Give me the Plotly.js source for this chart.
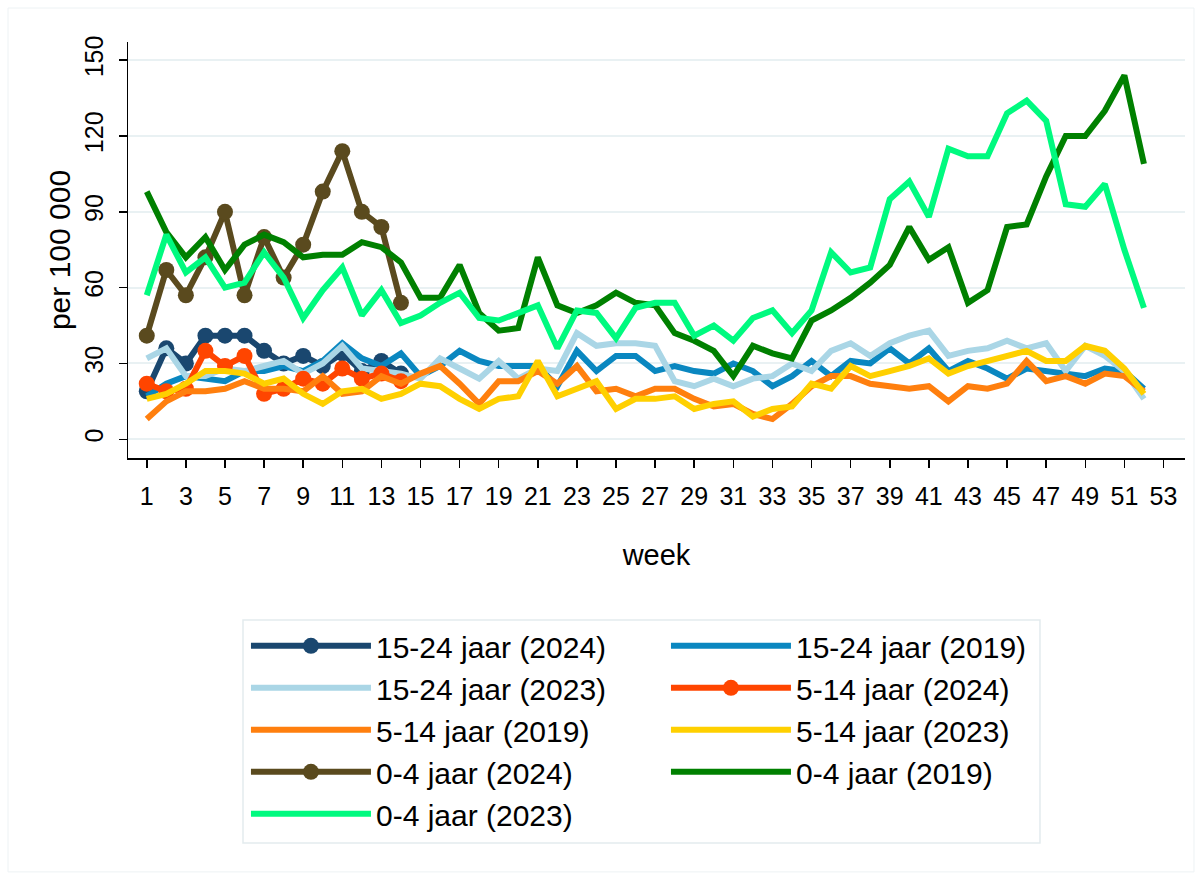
<!DOCTYPE html>
<html>
<head>
<meta charset="utf-8">
<script src="https://cdn.plot.ly/plotly-3.0.1.min.js"></script>
<style>
html,body{margin:0;padding:0;background:#fff;}
#chart{width:1202px;height:880px;}
</style>
</head>
<body>
<div id="chart"></div>
<script>
// ---- data ----
const weeks = Array.from({length: 52}, (_, i) => i + 1);
const weeks2024 = weeks.slice(0, 14);
const xTickVals = [1,3,5,7,9,11,13,15,17,19,21,23,25,27,29,31,33,35,37,39,41,43,45,47,49,51,53];
const yTickVals = [0,30,60,90,120,150];

const y15_24_2024 = [19,36,30,41,41,41,35,30,33,29,34,27,31,26];
const y15_24_2019 = [17,22,25,24,23,27,27,29,27,31,38,32,29,34,25,29,35,31,29,29,29,21,35,27,33,33,27,29,27,26,30,27,21,25,31,25,31,30,36,30,36,27,31,28,24,28,27,26,25,28,27,20];
const y15_24_2023 = [32,36,25,25,28,27,29,31,26,30,37,28,27,26,24,32,28,24,31,24,28,27,42,37,38,38,37,23,21,24,21,24,25,30,27,35,38,33,38,41,43,33,35,36,39,36,38,27,37,33,27,16];
const y5_14_2024 = [22,19,20,35,29,33,18,20,24,22,28,24,26,23];
const y5_14_2019 = [8,15,19,19,20,23,20,20,19,25,18,19,25,22,26,29,22,14,23,23,27,22,29,19,20,17,20,20,16,13,14,10,8,14,21,25,25,22,21,20,21,15,21,20,22,31,23,25,22,26,25,19];
const y5_14_2023 = [16,18,22,27,27,26,22,24,18,14,19,20,16,18,22,21,16,12,16,17,31,17,20,23,12,16,16,17,12,14,15,9,12,13,22,20,29,25,27,29,32,26,29,31,33,35,31,31,37,35,28,18];
const y0_4_2024 = [41,67,57,72,90,57,80,64,77,98,114,90,84,54];
const y0_4_2019 = [98,82,72,80,67,77,81,78,72,73,73,78,76,70,56,56,69,50,43,44,72,53,50,53,58,54,53,42,39,35,25,37,34,32,47,51,56,62,69,84,71,76,54,59,84,85,104,120,120,130,144,109];
const y0_4_2023 = [57,81,66,72,60,62,74,64,48,59,68,49,59,46,49,54,58,48,47,50,53,36,51,50,40,52,54,54,41,45,39,48,51,42,51,74,66,68,95,102,88,115,112,112,129,134,126,93,92,101,75,52];

const seriesNames = ['15-24 jaar (2024)','15-24 jaar (2019)','15-24 jaar (2023)','5-14 jaar (2024)','5-14 jaar (2019)','5-14 jaar (2023)','0-4 jaar (2024)','0-4 jaar (2019)','0-4 jaar (2023)'];
const seriesColors = ['#1a476f','#0a87c0','#aad6e6','#ff4500','#ff7f0e','#ffd000','#5a4a1e','#008000','#00fa7f'];
const seriesX = [weeks2024, weeks, weeks, weeks2024, weeks, weeks, weeks2024, weeks, weeks];
const seriesY = [y15_24_2024, y15_24_2019, y15_24_2023, y5_14_2024, y5_14_2019, y5_14_2023, y0_4_2024, y0_4_2019, y0_4_2023];
const withMarkers = [true,false,false,true,false,false,true,false,false];

const FONT = 'Arial, "Liberation Sans", Helvetica, sans-serif';

const traces = seriesNames.map((name, i) => ({
  type: 'scatter',
  mode: withMarkers[i] ? 'lines+markers' : 'lines',
  name: name,
  x: seriesX[i],
  y: seriesY[i],
  line: {color: seriesColors[i], width: 6},
  marker: {color: seriesColors[i], size: 16},
  hoverinfo: 'x+y+name'
}));

const layout = {
  width: 1202,
  height: 880,
  paper_bgcolor: '#ffffff',
  plot_bgcolor: '#ffffff',
  font: {family: FONT, color: '#000000', size: 25},
  margin: {l: 128, r: 17, t: 42, b: 422, pad: 0},
  showlegend: true,
  xaxis: {
    range: [0.04, 54.1],
    tickmode: 'array',
    tickvals: xTickVals,
    ticks: 'outside',
    ticklen: 8,
    tickwidth: 1.5,
    tickcolor: '#000',
    ticklabelstandoff: 7,
    showline: true,
    linecolor: '#000',
    linewidth: 1.5,
    showgrid: false,
    zeroline: false,
    tickfont: {size: 25, family: FONT},
    title: {text: 'week', font: {size: 29, family: FONT}, standoff: 36},
    automargin: false
  },
  yaxis: {
    range: [-7.4, 157.2],
    tickmode: 'array',
    tickvals: yTickVals,
    ticks: 'outside',
    ticklen: 8,
    tickwidth: 1.5,
    tickcolor: '#000',
    tickangle: -90,
    ticklabelstandoff: 6,
    showline: true,
    linecolor: '#000',
    linewidth: 1.5,
    showgrid: true,
    gridcolor: '#e9f1f3',
    gridwidth: 2,
    zeroline: false,
    tickfont: {size: 25, family: FONT},
    title: {text: 'per 100 000', font: {size: 30, family: FONT}, standoff: 0},
    automargin: false
  },
  legend: {
    orientation: 'h',
    x: 0.1116,
    xanchor: 'left',
    y: -0.389,
    yanchor: 'top',
    entrywidth: 285,
    entrywidthmode: 'pixels',
    itemwidth: 120,
    traceorder: 'normal',
    borderwidth: 0,
    bgcolor: 'rgba(0,0,0,0)',
    font: {size: 30, family: FONT, color: '#000'}
  },
  shapes: [
    {type: 'rect', xref: 'paper', yref: 'paper', x0: -0.1135, x1: 1.0085, y0: -0.995, y1: 1.0817,
     line: {color: '#edf2f4', width: 1}, fillcolor: 'rgba(0,0,0,0)', layer: 'below'},
    {type: 'rect', xref: 'paper', yref: 'paper', x0: 0.1088, x1: 0.8628, y0: -0.9255, y1: -0.3894,
     line: {color: '#e3ebee', width: 1.5}, fillcolor: 'rgba(0,0,0,0)', layer: 'above'}
  ]
};

Plotly.newPlot('chart', traces, layout, {displayModeBar: false, staticPlot: true});
</script>
</body>
</html>
